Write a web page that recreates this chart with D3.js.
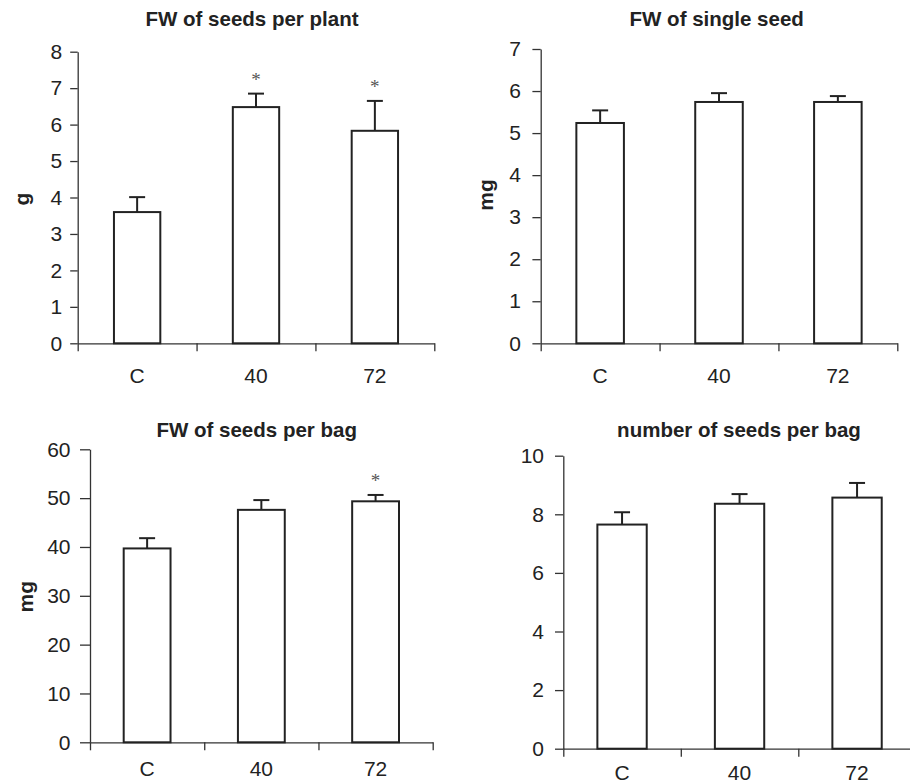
<!DOCTYPE html>
<html>
<head>
<meta charset="utf-8">
<script src="https://cdn.jsdelivr.net/npm/d3@7"></script>
<style>
  html, body { margin: 0; padding: 0; background: #fff; }
  svg { display: block; }
</style>
</head>
<body>
<svg id="chart" width="910" height="783"></svg>
<script>
// ---- data ----
const categories = ["C", "40", "72"];

const plantTitle = "FW of seeds per plant";
const plantUnit = "g";
const plantMeans = [3.6, 6.48, 5.83];
const plantErrors = [0.41, 0.37, 0.82];
const plantSignif = [false, true, true];
const plantTicks = [0, 1, 2, 3, 4, 5, 6, 7, 8];

const singleTitle = "FW of single seed";
const singleUnit = "mg";
const singleMeans = [5.24, 5.74, 5.74];
const singleErrors = [0.3, 0.21, 0.14];
const singleSignif = [false, false, false];
const singleTicks = [0, 1, 2, 3, 4, 5, 6, 7];

const bagTitle = "FW of seeds per bag";
const bagUnit = "mg";
const bagMeans = [39.7, 47.6, 49.35];
const bagErrors = [2.1, 2.0, 1.3];
const bagSignif = [false, false, true];
const bagTicks = [0, 10, 20, 30, 40, 50, 60];

const countTitle = "number of seeds per bag";
const countUnit = "";
const countMeans = [7.65, 8.36, 8.57];
const countErrors = [0.42, 0.33, 0.5];
const countSignif = [false, false, false];
const countTicks = [0, 2, 4, 6, 8, 10];

// ---- layout (positions only) ----
const panels = [
  { title: plantTitle, unit: plantUnit, means: plantMeans, errs: plantErrors, sig: plantSignif, ticks: plantTicks,
    x0: 77.7, x1: 434.3, yTop: 51.7, y0: 343.3, pad: 0.61, tickLen: 7.5, tickPad: 8,
    titleX: 252, titleBase: 26, unitX: 21.7, unitY: 199, labelBase: 382.5 },
  { title: singleTitle, unit: singleUnit, means: singleMeans, errs: singleErrors, sig: singleSignif, ticks: singleTicks,
    x0: 540.7, x1: 897.3, yTop: 49, y0: 343.3, pad: 0.6, tickLen: 8.3, tickPad: 11.5,
    titleX: 716.7, titleBase: 25.5, unitX: 485, unitY: 195, labelBase: 382.5 },
  { title: bagTitle, unit: bagUnit, means: bagMeans, errs: bagErrors, sig: bagSignif, ticks: bagTicks,
    x0: 90, x1: 432.7, yTop: 449.3, y0: 742.3, pad: 0.59, tickLen: 10, tickPad: 9.5,
    titleX: 256.7, titleBase: 436.5, unitX: 25, unitY: 596.7, labelBase: 776 },
  { title: countTitle, unit: countUnit, means: countMeans, errs: countErrors, sig: countSignif, ticks: countTicks,
    x0: 563.3, x1: 915.8, yTop: 455.7, y0: 748.7, pad: 0.58, tickLen: 8.3, tickPad: 11,
    titleX: 739, titleBase: 436.5, unitX: 0, unitY: 0, labelBase: 780 }
];

const svg = d3.select("#chart");
const ink = "#222";
const font = "'Liberation Sans', Arial, sans-serif";
const tickFont = "21px";
const titleFont = "20.5px";

panels.forEach(p => {
  const g = svg.append("g");
  const maxV = p.ticks[p.ticks.length - 1];
  const y = d3.scaleLinear().domain([0, maxV]).range([p.y0, p.yTop]);
  const x = d3.scaleBand().domain(categories).range([p.x0, p.x1])
    .paddingInner(p.pad).paddingOuter(p.pad / 2);
  const xb = d3.scaleLinear().domain([0, categories.length]).range([p.x0, p.x1]);

  // y axis
  const ya = g.append("g").attr("transform", `translate(${p.x0},0)`)
    .call(d3.axisLeft(y).tickValues(p.ticks).tickSize(p.tickLen).tickSizeOuter(0).tickPadding(p.tickPad).tickFormat(d3.format("d")));
  ya.select(".domain").attr("stroke", "#333").attr("stroke-width", 1.3);
  ya.selectAll(".tick line").attr("stroke", "#333").attr("stroke-width", 1.3);
  ya.selectAll(".tick text").attr("fill", ink).style("font-family", font).style("font-size", tickFont);

  // x axis (ticks at category boundaries)
  const xa = g.append("g").attr("transform", `translate(0,${p.y0})`)
    .call(d3.axisBottom(xb).tickValues(d3.range(categories.length + 1)).tickSize(8).tickSizeOuter(0).tickFormat(""));
  xa.select(".domain").attr("stroke", "#333").attr("stroke-width", 1.3);
  xa.selectAll(".tick line").attr("stroke", "#333").attr("stroke-width", 1.3);

  // category labels
  g.selectAll(".cat").data(categories).enter().append("text")
    .attr("x", d => x(d) + x.bandwidth() / 2)
    .attr("y", p.labelBase)
    .attr("text-anchor", "middle")
    .attr("fill", ink).style("font-family", font).style("font-size", tickFont)
    .text(d => d);

  const rows = categories.map((c, i) => ({ c, m: p.means[i], e: p.errs[i], s: p.sig[i] }));

  // error bars (upper only)
  rows.forEach(r => {
    const cx = x(r.c) + x.bandwidth() / 2;
    g.append("line").attr("x1", cx).attr("x2", cx).attr("y1", y(r.m)).attr("y2", y(r.m + r.e))
      .attr("stroke", ink).attr("stroke-width", 2);
    g.append("line").attr("x1", cx - 8).attr("x2", cx + 8).attr("y1", y(r.m + r.e)).attr("y2", y(r.m + r.e))
      .attr("stroke", ink).attr("stroke-width", 2);
    if (r.s) {
      g.append("text").attr("x", cx).attr("y", y(r.m + r.e) - 17 + 9)
        .attr("text-anchor", "middle").attr("fill", "#555")
        .style("font-family", "'Liberation Serif', 'Times New Roman', serif").style("font-size", "19px")
        .text("*");
    }
  });

  // bars
  g.selectAll(".bar").data(rows).enter().append("rect")
    .attr("x", d => x(d.c)).attr("width", x.bandwidth())
    .attr("y", d => y(d.m)).attr("height", d => y(0) - y(d.m))
    .attr("fill", "#fff").attr("stroke", ink).attr("stroke-width", 2);

  // title
  g.append("text").attr("x", p.titleX).attr("y", p.titleBase)
    .attr("text-anchor", "middle")
    .attr("fill", ink).style("font-family", font).style("font-size", titleFont).style("font-weight", "bold")
    .text(p.title);

  // unit label
  if (p.unit) {
    g.append("text").attr("transform", `translate(${p.unitX},${p.unitY}) rotate(-90)`)
      .attr("text-anchor", "middle").attr("dominant-baseline", "central")
      .attr("fill", ink).style("font-family", font).style("font-size", "21px").style("font-weight", "bold")
      .text(p.unit);
  }
});
</script>
</body>
</html>
